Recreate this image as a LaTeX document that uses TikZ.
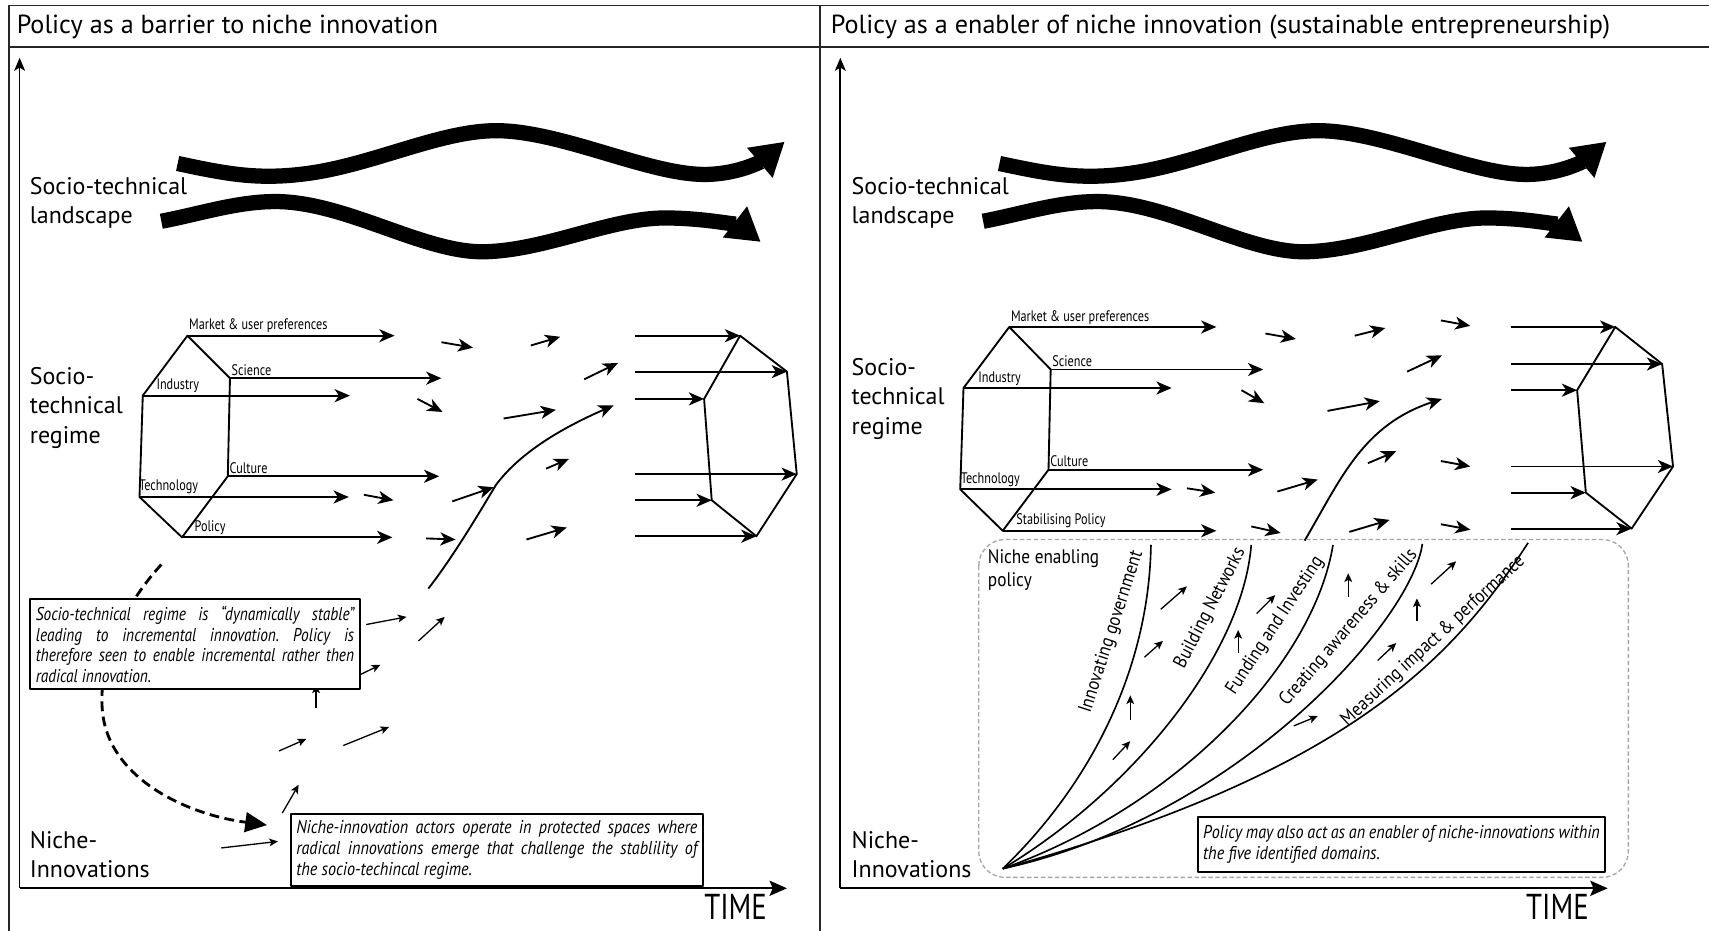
\documentclass[tikz,border=0pt]{standalone}
\usepackage{fontspec}
\setmainfont{PT Sans}
\newfontfamily\condf[FakeStretch=0.8]{PT Sans}
\newfontfamily\midf[FakeStretch=0.88]{PT Sans}
\newfontfamily\boxf[FakeStretch=0.83]{PT Sans}
\newfontfamily\boxg[FakeStretch=0.87]{PT Sans}
\usetikzlibrary{arrows.meta}
\frenchspacing
\begin{document}
\begin{tikzpicture}[x=0.5pt,y=-0.5pt,line join=round,
  frame/.style={line width=0.8pt,black!85},
  head/.style={font=\fontsize{12}{13}\selectfont,anchor=west,inner sep=0pt},
  big/.style={font=\fontsize{11}{13.5}\selectfont,align=left,anchor=west,inner sep=0pt},
  tiny/.style={font=\condf\fontsize{7}{8}\selectfont,anchor=south west,inner sep=0.6pt},
  timelbl/.style={font=\condf\fontsize{16.5}{17}\selectfont,anchor=east,inner sep=0pt},
  itbox/.style={draw,line width=0.9pt,fill=white,font=\boxf\itshape\fontsize{8.5}{9.5}\selectfont,align=left,inner xsep=2.5pt,inner ysep=3pt,anchor=north west},
  itboxw/.style={itbox,font=\boxg\itshape\fontsize{8.5}{9.5}\selectfont},
  fanlbl/.style={font=\midf\fontsize{8.8}{10}\selectfont,inner sep=0pt},
  rg/.style={line width=0.85pt,-{Stealth[length=7pt,width=6pt,inset=2pt]}},
  edge/.style={line width=0.85pt},
  thinarr/.style={line width=0.6pt,-{Stealth[length=4pt,width=3.6pt,inset=1pt]}},
  axis/.style={line width=0.8pt,-{Stealth[length=8pt,width=7pt,inset=1.5pt]}},
  yaxis/.style={line width=0.8pt,-{Stealth[length=6pt,width=5pt,inset=1.5pt]}},
  land/.style={line width=7pt,-{Triangle[length=15pt,width=17pt]}},
  fan/.style={line width=0.75pt}]
\useasboundingbox (0,0) rectangle (1568,854);
\fill[white] (0,0) rectangle (1568,854);

% ---------- frame ----------
\draw[frame] (8,854) -- (8,5) -- (1568,5);
\draw[frame] (8,43) -- (1568,43);
\draw[frame] (752,5) -- (752,854);
\node[head] (h1) at (15,25) {Policy as a barrier to niche innovation};
\node[head] (h2) at (762,25) {Policy as a enabler of niche innovation (sustainable entrepreneurship)};

% ---------- axes ----------
\coordinate (o1) at (18,815);
\coordinate (y1) at (18,53);
\coordinate (x1) at (722,815);
\draw[yaxis] (o1) -- (y1);
\draw[axis] (o1) -- (x1);
\coordinate (o2) at (771,815);
\coordinate (y2) at (771,53);
\coordinate (x2) at (1475,815);
\draw[yaxis] (o2) -- (y2);
\draw[axis] (o2) -- (x2);
\node[timelbl] (t1) at (704,832) {TIME};
\node[timelbl] (t2) at (1458,832) {TIME};

% ---------- level labels ----------
\node[big] (l1) at (27,186) {Socio-technical\\landscape};
\node[big] (r1) at (27,374) {Socio-\\technical\\regime};
\node[big] (n1) at (27,784) {Niche-\\Innovations};
\node[big] (l2) at (781,186) {Socio-technical\\landscape};
\node[big] (r2) at (781,366) {Socio-\\technical\\regime};
\node[big] (n2) at (781,784) {Niche-\\Innovations};

% ---------- landscape arrows ----------
\foreach \dx in {0,754}{
\begin{scope}[shift={(\dx,0)}]
\draw[land] (163,150) .. controls (210,160) and (240,166) .. (290,158)
  .. controls (350,148) and (410,118) .. (460,120)
  .. controls (520,122) and (600,162) .. (650,160)
  .. controls (680,159) and (700,147) .. (720,130);
\draw[land] (148,203) .. controls (185,196) and (220,184) .. (257,185)
  .. controls (320,187) and (390,232) .. (444,231)
  .. controls (500,230) and (560,200) .. (610,200)
  .. controls (650,200) and (680,208) .. (698,222);
\end{scope}}

% ---------- left regime ----------
\coordinate (LT) at (172,308); \coordinate (LS) at (211,347);
\coordinate (LI) at (131,363); \coordinate (LC) at (209,437);
\coordinate (LTe) at (128,456); \coordinate (LP) at (167,493);
\draw[edge] (LI) -- (LT) -- (LS) -- (LC) -- (LP) -- (LTe) -- cycle;
\draw[rg] (LT) -- (362,308);
\draw[rg] (LS) -- (405,347);
\draw[rg] (LI) -- (321,363);
\draw[rg] (LC) -- (403,437);
\draw[rg] (LTe) -- (320,456);
\draw[rg] (LP) -- (360,493);
\node[tiny] (lm) at (172,307) {Market \& user preferences};
\node[tiny] (ls) at (211,346) {Science};
\node[tiny] (li) at (142,362) {Industry};
\node[tiny] (lc) at (209,436) {Culture};
\node[tiny] (lte) at (126,455) {Technology};
\node[tiny] (lp) at (177,492) {Policy};

\coordinate (LR1) at (679,308); \coordinate (LR2) at (722,341);
\coordinate (LR3) at (646,366); \coordinate (LR4) at (731,435);
\coordinate (LR5) at (653,459); \coordinate (LR6) at (694,492);
\draw[rg] (583,308) -- (LR1);
\draw[rg] (583,341) -- (LR2);
\draw[rg] (583,366) -- (LR3);
\draw[rg] (583,435) -- (LR4);
\draw[rg] (583,459) -- (LR5);
\draw[rg] (583,492) -- (LR6);
\draw[edge] (LR3) -- (LR1) -- (LR2) -- (LR4) -- (LR6) -- (LR5) -- cycle;

\draw[rg] (405,314) -- (434,319);
\draw[rg] (487,317) -- (514,309);
\draw[rg] (536,348) -- (567,333);
\draw[rg] (383,366) -- (406,378);
\draw[rg] (462,384) -- (510,376);
\draw[rg] (501,430) -- (522,421);
\draw[rg] (334,454) -- (361,459);
\draw[rg] (415,460) -- (453,447);
\draw[rg] (391,494) -- (418,495);
\draw[rg] (483,495) -- (520,484);
\draw[rg] (393,540) .. controls (415,512) and (440,470) .. (455,445)
  .. controls (475,418) and (510,395) .. (563,372);

% ---------- left niche region ----------
\draw[line width=1.3pt,dash pattern=on 4.5pt off 2.5pt,-{Triangle[length=10pt,width=9pt]}]
  (148,518) .. controls (105,565) and (88,620) .. (95,660)
  .. controls (105,715) and (170,747) .. (245,757);
\draw[thinarr] (336,573) -- (373,566);
\draw[thinarr] (384,588) -- (408,566);
\draw[thinarr] (316,626) -- (349,610);
\draw[thinarr] (290,650) -- (290,628);
\draw[thinarr] (256,689) -- (281,678);
\draw[thinarr] (315,684) -- (357,667);
\draw[thinarr] (259,746) -- (274,720);
\draw[thinarr] (203,778) -- (255,772);

\node[itbox] (b1) at (27,549) {\makebox[146pt][s]{Socio-technical regime is “dynamically stable”}\\
\makebox[146pt][s]{leading to incremental innovation. Policy is}\\
\makebox[146pt][s]{therefore seen to enable incremental rather then}\\
radical innovation.};
\node[itboxw] (b2) at (266,746) {\makebox[184pt][s]{Niche-innovation actors operate in protected spaces where}\\
\makebox[184pt][s]{radical innovations emerge that challenge the stablility of}\\
the socio-techincal regime.};

% ---------- right regime ----------
\coordinate (RT) at (926,300); \coordinate (RS) at (964,339);
\coordinate (RI) at (884,356); \coordinate (RC) at (962,431);
\coordinate (RTe) at (881,449); \coordinate (RP) at (920,487);
\draw[edge] (RI) -- (RT) -- (RS) -- (RC) -- (RP) -- (RTe) -- cycle;
\draw[rg] (RT) -- (1116,300);
\draw[rg] (RS) -- (1159,339);
\draw[rg] (RI) -- (1075,356);
\draw[rg] (RC) -- (1159,431);
\draw[rg] (RTe) -- (1075,449);
\draw[rg] (RP) -- (1116,487);
\node[tiny] (rm) at (926,299) {Market \& user preferences};
\node[tiny] (rs) at (964,338) {Science};
\node[tiny] (ri) at (896,355) {Industry};
\node[tiny] (rc) at (962,430) {Culture};
\node[tiny] (rte) at (880,448) {Technology};
\node[tiny] (rp) at (931,486) {Stabilising Policy};

\coordinate (RR1) at (1482,300); \coordinate (RR2) at (1525,334);
\coordinate (RR3) at (1447,358); \coordinate (RR4) at (1535,428);
\coordinate (RR5) at (1455,452); \coordinate (RR6) at (1497,485);
\draw[rg] (1386,300) -- (RR1);
\draw[rg] (1386,334) -- (RR2);
\draw[rg] (1386,358) -- (RR3);
\draw[rg] (1386,428) -- (RR4);
\draw[rg] (1386,452) -- (RR5);
\draw[rg] (1386,485) -- (RR6);
\draw[edge] (RR3) -- (RR1) -- (RR2) -- (RR4) -- (RR6) -- (RR5) -- cycle;

\draw[rg] (1161,306) -- (1189,311);
\draw[rg] (1243,308) -- (1271,301);
\draw[rg] (1322,294) -- (1349,299);
\draw[rg] (1291,341) -- (1323,326);
\draw[rg] (1139,358) -- (1160,370);
\draw[rg] (1218,377) -- (1266,368);
\draw[rg] (1255,425) -- (1281,414);
\draw[rg] (1322,423) -- (1349,428);
\draw[rg] (1089,448) -- (1115,452);
\draw[rg] (1172,451) -- (1209,440);
\draw[rg] (1148,483) -- (1175,489);
\draw[rg] (1238,488) -- (1275,477);
\draw[rg] (1322,481) -- (1349,486);
\draw[rg] (1197,496) .. controls (1230,440) and (1250,390) .. (1323,366);

% ---------- niche enabling policy ----------
\draw[gray!70,line width=0.6pt,dash pattern=on 2pt off 1.2pt,rounded corners=12pt]
  (898,495) rectangle (1494,805);
\node[font=\midf\fontsize{9}{10.5}\selectfont,align=left,anchor=north west,inner sep=0pt] (nep) at (906,504) {Niche enabling\\policy};

\coordinate (O) at (920,797);
\coordinate (F1) at (1056,500); \coordinate (F2) at (1148,500);
\coordinate (F3) at (1223,500); \coordinate (F4) at (1305,499);
\coordinate (F5) at (1402,498);
\draw[fan] (O) .. controls (1000,720) and (1054,615) .. (F1);
\draw[fan] (O) .. controls (1040,725) and (1140,600) .. (F2);
\draw[fan] (O) .. controls (1080,740) and (1205,610) .. (F3);
\draw[fan] (O) .. controls (1135,750) and (1295,570) .. (F4);
\draw[fan] (O) .. controls (1230,710) and (1330,610) .. (F5);

\node[fanlbl,rotate=72] (f1) at (1020,580) {Innovating government};
\node[fanlbl,rotate=62.5] (f2) at (1110.5,558) {Building Networks};
\node[fanlbl,rotate=56.6] (f3) at (1170,574) {Funding and Investing};
\node[fanlbl,rotate=49.3] (f4) at (1237.5,576) {Creating awareness \& skills};
\node[fanlbl,rotate=42.6] (f5) at (1315,588) {Measuring impact \& performance};

\draw[thinarr] (1021,697) -- (1037,680);
\draw[thinarr] (1037,661) -- (1037,638);
\draw[thinarr] (1050,603) -- (1067,588);
\draw[thinarr] (1065,559) -- (1089,538);
\draw[thinarr] (1136,599) -- (1136,578);
\draw[thinarr] (1153,563) -- (1170,546);
\draw[thinarr] (1237,548) -- (1237,526);
\draw[thinarr] (1187,666) -- (1209,657);
\draw[thinarr] (1264,606) -- (1281,590);
\draw[thinarr] (1300,570) -- (1300,549);
\draw[thinarr] (1313,536) -- (1336,515);

\node[itboxw,inner ysep=3.8pt] (b3) at (1098,749) {\makebox[182pt][s]{Policy may also act as an enabler of niche-innovations within}\\
the five identified domains.};
\end{tikzpicture}
\end{document}
